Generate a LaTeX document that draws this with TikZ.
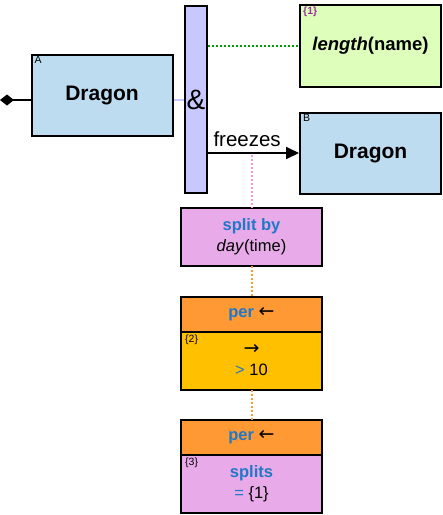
\documentclass[tikz,border=0pt]{standalone}
\usepackage{fontspec}
\setmainfont{Liberation Sans}
\newfontfamily\arrowfont{DejaVu Sans}
\usetikzlibrary{arrows.meta, positioning}

\definecolor{entblue}{HTML}{BDDCF0}
\definecolor{barlilac}{HTML}{C8C8FF}
\definecolor{exprgreen}{HTML}{DDFFBB}
\definecolor{splitpink}{HTML}{E8AAE8}
\definecolor{perorange}{HTML}{FF9933}
\definecolor{pergold}{HTML}{FFC000}
\definecolor{kwblue}{HTML}{1F78C8}
\definecolor{tagpurple}{HTML}{993399}
\definecolor{dotgreen}{HTML}{009900}
\definecolor{dotpink}{HTML}{EE99EE}

\newcommand{\kw}[1]{\textcolor{kwblue}{\textbf{#1}}}
\newcommand{\larr}{{\arrowfont\fontsize{19}{20}\selectfont ←}}
\newcommand{\rarr}{{\arrowfont\fontsize{19}{20}\selectfont →}}

\begin{document}
\begin{tikzpicture}[x=1pt, y=-1pt,
  % entities (the two Dragon boxes)
  entity/.style={rectangle, draw=black, line width=2pt, fill=entblue, minimum width=141pt, minimum height=81pt, inner sep=0pt, font=\fontsize{21}{24}\selectfont\bfseries},
  % the & bar
  joinbar/.style={rectangle, draw=black, line width=2pt, fill=barlilac, minimum width=22pt, minimum height=187pt, inner sep=0pt, font=\fontsize{28}{30}\selectfont},
  % expression box
  exprbox/.style={rectangle, draw=black, line width=2pt, fill=exprgreen, minimum width=141pt, minimum height=82pt, inner sep=0pt, font=\fontsize{18.5}{20}\selectfont\bfseries},
  % operator boxes
  opbox/.style={rectangle, draw=black, line width=2pt, outer sep=0pt, minimum width=141pt, minimum height=58pt, inner sep=0pt, align=center, font=\fontsize{16.5}{21}\selectfont},
  ophead/.style={opbox, fill=perorange, minimum height=35pt},
  tag/.style={inner sep=0pt, anchor=north west, font=\fontsize{10.5}{11}\selectfont},
  dotlink/.style={line width=2pt, dash pattern=on 2pt off 2pt},
  arrow/.style={line width=2pt, -{Triangle[length=13pt, width=12pt]}}
]
\useasboundingbox (0,0) rectangle (443,515);

% ---- Entities and the & bar ----
\node[entity] (A) at (102,95) {Dragon};
\node[joinbar] (bar) at (196,99.5) {\&};
\node[exprbox] (len) at (370.5,46) {\textit{length}(name)};
\node[entity] (B) at (370.5,153) {Dragon};

\node[tag] (tagA) at ([shift={(4,3)}]A.north west) {A};
\node[tag] (tagB) at ([shift={(4,3)}]B.north west) {B};
\node[tag, text=tagpurple, font=\fontsize{10.5}{11}\selectfont\bfseries] (tag1) at ([shift={(4,3)}]len.north west) {\{1\}};

% ---- Operator chain ----
\node[opbox, fill=splitpink] (split) at (251.5,237) {\kw{split by}\\\textit{day}(time)};
\node[ophead] (per1h) at (251.5,314) {\kw{per} \larr};
\node[opbox, fill=pergold, below=0pt of per1h] (per1b) {\rarr\\\textcolor{kwblue}{>} 10};
\node[ophead] (per2h) at (251.5,437.5) {\kw{per} \larr};
\node[opbox, fill=splitpink, below=0pt of per2h] (per2b) {\kw{splits}\\\textcolor{kwblue}{=} \{1\}};

\node[tag] (tag2) at ([shift={(4,3)}]per1b.north west) {\{2\}};
\node[tag] (tag3) at ([shift={(4,3)}]per2b.north west) {\{3\}};

% ---- Connectors ----
\coordinate (root) at (0,100);
\draw[line width=2pt, {Diamond[length=14pt, width=11pt]}-] (root) -- ([shift={(0,5)}]A.west);
\draw[line width=2pt, barlilac] ([shift={(0,5)}]A.east) -- ([shift={(0,5)}]A.east -| bar.west);
\draw[dotlink, dotgreen] (bar.east |- len.west) -- (len.west);
\draw[arrow] (bar.east |- B.west) -- (B.west) node[pos=0.43, above=2pt, font=\fontsize{20.5}{22}\selectfont] (frz) {freezes};
\draw[dotlink, dotpink] ([shift={(0,2)}]split.north |- B.west) -- (split.north);
\draw[dotlink, perorange] (split.south) -- (per1h.north);
\draw[dotlink, perorange] (per1b.south) -- (per2h.north);

\end{tikzpicture}
\end{document}
